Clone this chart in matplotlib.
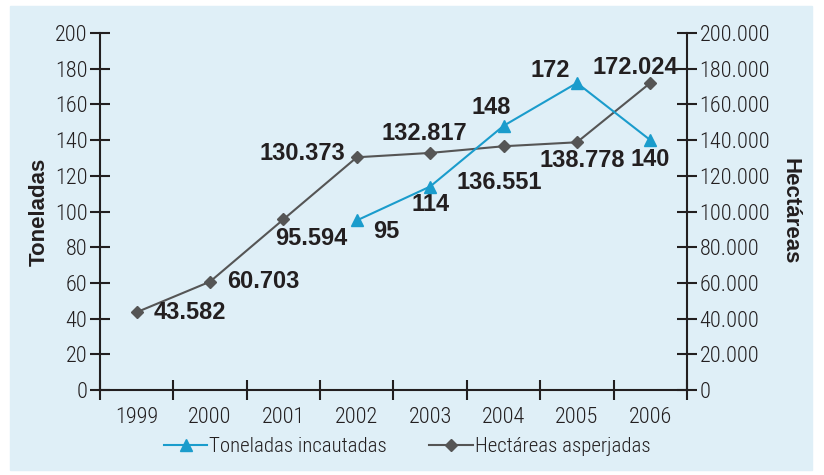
import matplotlib.pyplot as plt
import matplotlib.patches as patches
import numpy as np

years = ["1999", "2000", "2001", "2002", "2003", "2004", "2005", "2006"]
toneladas_years = ["2002", "2003", "2004", "2005", "2006"]
toneladas = [95, 114, 148, 172, 140]
hectareas = [43582, 60703, 95594, 130373, 132817, 136551, 138778, 172024]

narrow = ['Roboto Condensed', 'DejaVu Sans']
plt.rcParams['font.family'] = ['Liberation Sans', 'DejaVu Sans']

bg = '#dfeff7'
blue = '#1a9ccc'
gray = '#555555'
dark = '#231f20'

fig = plt.figure(figsize=(8.24, 4.75), dpi=100)
fig.patches.append(patches.Rectangle((10 / 824, 5 / 475), 802 / 824, 464 / 475,
                                     transform=fig.transFigure, color=bg, zorder=-10))
ax = fig.add_axes([100 / 824, 85 / 475, 587 / 824, 357 / 475])
ax.set_facecolor('none')
ax2 = ax.twinx()
ax2.set_facecolor('none')

x_all = np.arange(len(years)) + 0.5
x_ton = np.array([years.index(y) for y in toneladas_years]) + 0.5

ax2.plot(x_all, hectareas, color=gray, lw=1.5, marker='D', ms=6, mfc=gray, mec=gray,
         label='Hectáreas asperjadas', zorder=3)
ax.plot(x_ton, toneladas, color=blue, lw=1.5, marker='^', ms=8, mfc=blue, mec=blue,
        label='Toneladas incautadas', zorder=4)
ax.set_zorder(2)
ax2.set_zorder(1)

ax.set_xlim(0, 8)
ax.set_ylim(0, 200)
ax2.set_ylim(0, 200000)

tick_font = dict(fontfamily=narrow, fontsize=16, fontweight='light', color=dark)

ax.set_xticks(np.arange(0, 9))
ax.set_xticklabels([])
ax.set_xticks(x_all, minor=True)
ax.set_xticklabels(years, minor=True, **tick_font)
ax.tick_params(axis='x', which='minor', length=0, pad=12)
ax.tick_params(axis='x', which='major', direction='inout', length=14, width=1.5, color=dark)

ax.set_yticks(np.arange(0, 201, 20))
ax.set_yticklabels([str(v) for v in range(0, 201, 20)], **tick_font)
ax.tick_params(axis='y', direction='inout', length=14, width=1.5, color=dark, pad=2)

rt = np.arange(0, 200001, 20000)
ax2.set_yticks(rt)
ax2.set_yticklabels(['0' if v == 0 else f"{v:,}".replace(',', '.') for v in rt], **tick_font)
ax2.tick_params(axis='y', direction='inout', length=14, width=1.5, color=dark, pad=2)

for a in (ax, ax2):
    a.spines['top'].set_visible(False)
    for s in ('left', 'right', 'bottom'):
        a.spines[s].set_linewidth(1.5)
        a.spines[s].set_color(dark)
ax.spines['right'].set_visible(False)
ax2.spines['left'].set_visible(False)
ax2.spines['bottom'].set_visible(False)

ax.set_ylabel('Toneladas', fontsize=16, fontweight='bold', color=dark, labelpad=4)
ax2.set_ylabel('Hectáreas', fontsize=16, fontweight='bold', color=dark, rotation=-90, labelpad=22)

lab = dict(fontsize=17, fontweight='bold', color=dark)

# hectareas labels: (dx, dy in points, ha)
h_off = [(12, 0, 'left'), (12, 0, 'left'), (-6, -14, 'left'),
         (-8, 3, 'right'), (-4, 14, 'center'), (-3, -26, 'center'),
         (4, -13, 'center'), (-11, 11, 'center')]
for xi, v, (dx, dy, ha) in zip(x_all, hectareas, h_off):
    ax.annotate(f"{v:,}".replace(',', '.'), (xi, v / 1000), xytext=(dx, dy), textcoords='offset points',
                ha=ha, va='center', **lab)

t_off = [(12, -8, 'left'), (0, -13, 'center'), (-9, 13, 'center'),
         (-19, 9, 'center'), (0, -14, 'center')]
for xi, v, (dx, dy, ha) in zip(x_ton, toneladas, t_off):
    ax.annotate(str(v), (xi, v), xytext=(dx, dy), textcoords='offset points',
                ha=ha, va='center', **lab)

h1, l1 = ax.get_legend_handles_labels()
h2, l2 = ax2.get_legend_handles_labels()
fig.legend(h1 + h2, l1 + l2, loc='center', bbox_to_anchor=(407 / 824, 1 - 447 / 475), ncol=2,
           frameon=False, prop={'family': narrow, 'size': 15, 'weight': 'light'}, handlelength=2.1,
           handletextpad=0.1, columnspacing=2.0, labelcolor=dark)

fig.savefig('out.png', dpi=100)
